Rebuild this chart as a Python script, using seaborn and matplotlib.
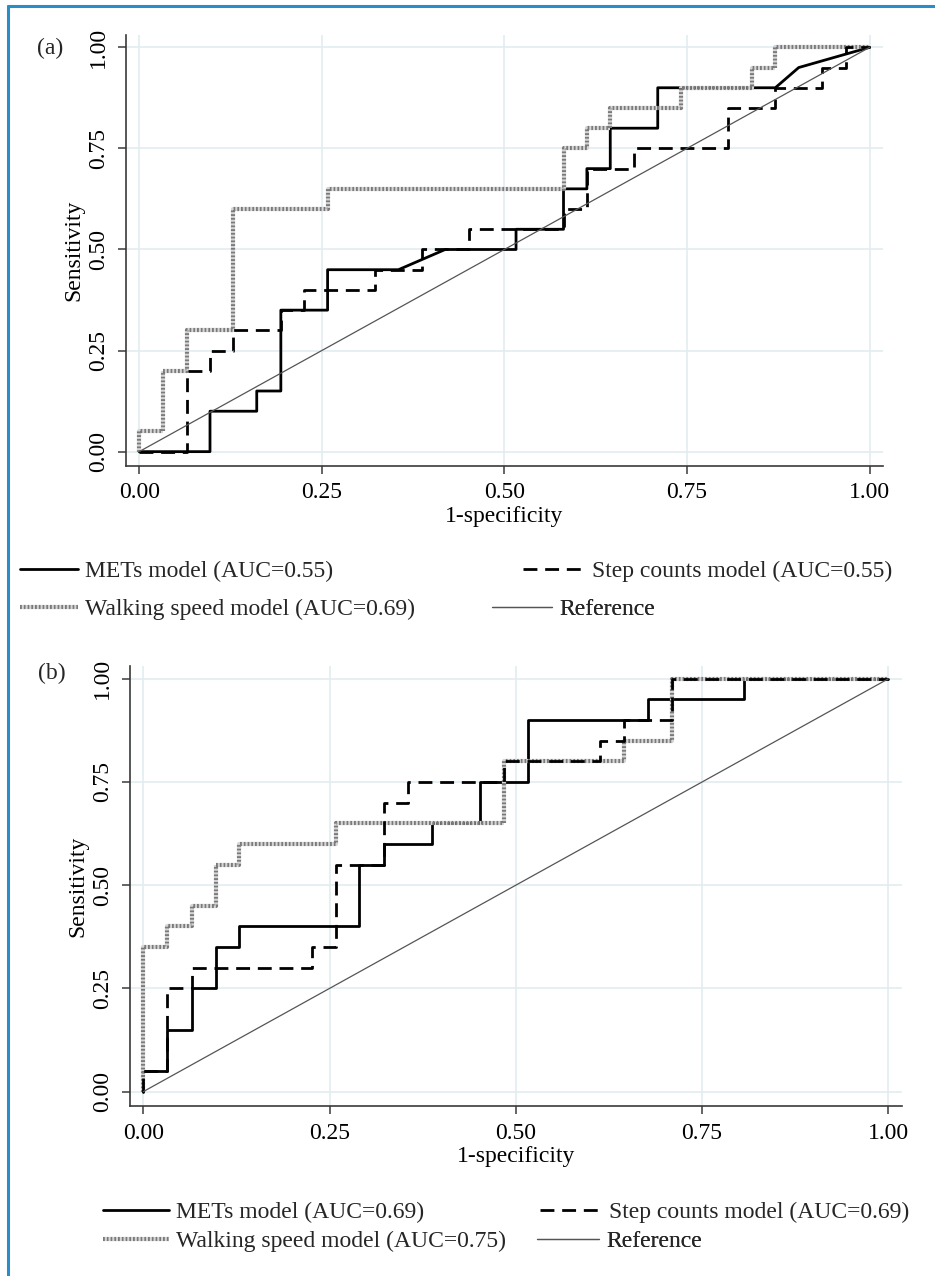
import matplotlib
matplotlib.use("Agg")
import matplotlib.pyplot as plt
from matplotlib.lines import Line2D
import seaborn as sns

# ---------------- data ----------------
# Panel (a)
a_mets_fpr = [0, 0.097, 0.097, 0.161, 0.161, 0.194, 0.194, 0.258, 0.258, 0.355, 0.419, 0.516,
              0.516, 0.581, 0.581, 0.613, 0.613, 0.645, 0.645, 0.710, 0.710, 0.871, 0.903, 1.0]
a_mets_tpr = [0, 0, 0.10, 0.10, 0.15, 0.15, 0.35, 0.35, 0.45, 0.45, 0.50, 0.50,
              0.55, 0.55, 0.65, 0.65, 0.70, 0.70, 0.80, 0.80, 0.90, 0.90, 0.95, 1.0]
a_step_fpr = [0, 0.065, 0.065, 0.097, 0.097, 0.129, 0.129, 0.194, 0.194, 0.226, 0.226, 0.323,
              0.323, 0.387, 0.387, 0.452, 0.452, 0.581, 0.581, 0.613, 0.613, 0.677, 0.677,
              0.806, 0.806, 0.871, 0.871, 0.935, 0.935, 0.968, 0.968, 1.0]
a_step_tpr = [0, 0, 0.20, 0.20, 0.25, 0.25, 0.30, 0.30, 0.35, 0.35, 0.40, 0.40,
              0.45, 0.45, 0.50, 0.50, 0.55, 0.55, 0.60, 0.60, 0.70, 0.70, 0.75,
              0.75, 0.85, 0.85, 0.90, 0.90, 0.95, 0.95, 1.0, 1.0]
a_walk_fpr = [0, 0, 0.032, 0.032, 0.065, 0.065, 0.129, 0.129, 0.258, 0.258, 0.581, 0.581,
              0.613, 0.613, 0.645, 0.645, 0.742, 0.742, 0.839, 0.839, 0.871, 0.871, 1.0]
a_walk_tpr = [0, 0.05, 0.05, 0.20, 0.20, 0.30, 0.30, 0.60, 0.60, 0.65, 0.65, 0.75,
              0.75, 0.80, 0.80, 0.85, 0.85, 0.90, 0.90, 0.95, 0.95, 1.0, 1.0]
a_labels = ["METs model (AUC=0.55)", "Step counts model (AUC=0.55)",
            "Walking speed model (AUC=0.69)", "Reference"]

# Panel (b)
b_mets_fpr = [0, 0, 0.032, 0.032, 0.065, 0.065, 0.097, 0.097, 0.129, 0.129, 0.290, 0.290,
              0.323, 0.323, 0.387, 0.387, 0.452, 0.452, 0.516, 0.516, 0.677, 0.677, 0.806,
              0.806, 1.0]
b_mets_tpr = [0, 0.05, 0.05, 0.15, 0.15, 0.25, 0.25, 0.35, 0.35, 0.40, 0.40, 0.55,
              0.55, 0.60, 0.60, 0.65, 0.65, 0.75, 0.75, 0.90, 0.90, 0.95, 0.95,
              1.0, 1.0]
b_step_fpr = [0, 0, 0.032, 0.032, 0.065, 0.065, 0.226, 0.226, 0.258, 0.258, 0.323, 0.323,
              0.355, 0.355, 0.484, 0.484, 0.613, 0.613, 0.645, 0.645, 0.710, 0.710, 1.0]
b_step_tpr = [0, 0.05, 0.05, 0.25, 0.25, 0.30, 0.30, 0.35, 0.35, 0.55, 0.55, 0.70,
              0.70, 0.75, 0.75, 0.80, 0.80, 0.85, 0.85, 0.90, 0.90, 1.0, 1.0]
b_walk_fpr = [0, 0, 0.032, 0.032, 0.065, 0.065, 0.097, 0.097, 0.129, 0.129, 0.258, 0.258,
              0.484, 0.484, 0.645, 0.645, 0.710, 0.710, 1.0]
b_walk_tpr = [0, 0.35, 0.35, 0.40, 0.40, 0.45, 0.45, 0.55, 0.55, 0.60, 0.60, 0.65,
              0.65, 0.80, 0.80, 0.85, 0.85, 1.0, 1.0]
b_labels = ["METs model (AUC=0.69)", "Step counts model (AUC=0.69)",
            "Walking speed model (AUC=0.75)", "Reference"]

ref_x = [0, 1]
ref_y = [0, 1]
ticks = [0, 0.25, 0.5, 0.75, 1.0]
tick_labels = ["0.00", "0.25", "0.50", "0.75", "1.00"]
panel_tags = ["(a)", "(b)"]

# ---------------- style ----------------
sns.set_theme(style="ticks")
plt.rcParams["font.family"] = ["Liberation Serif", "DejaVu Serif"]
FS = 17

W, H = 935, 1276
fig = plt.figure(figsize=(W / 100, H / 100), dpi=100)
fig.patch.set_facecolor("white")


def px_axes(l, t, r, b):
    return fig.add_axes([l / W, 1 - b / H, (r - l) / W, (b - t) / H])


ax_a = px_axes(126, 34.8, 882.7, 465.8)
ax_b = px_axes(130, 666, 901.7, 1106)

solid_kw = dict(color="black", lw=2.0, linestyle="-")
dash_kw = dict(color="black", lw=2.0, linestyle=(0, (5.0, 2.8)))
walk_kw = dict(color="#7a7a7a", lw=3.0, linestyle=(0, (0.45, 0.45)), gapcolor="#d6d6d6")
ref_kw = dict(color="#555555", lw=0.9, linestyle="-")


def draw_panel(ax, mets, step, walk):
    sns.lineplot(x=mets[0], y=mets[1], sort=False, estimator=None, ax=ax, **solid_kw)
    sns.lineplot(x=walk[0], y=walk[1], sort=False, estimator=None, ax=ax, **walk_kw)
    sns.lineplot(x=step[0], y=step[1], sort=False, estimator=None, ax=ax, **dash_kw)
    sns.lineplot(x=ref_x, y=ref_y, sort=False, estimator=None, ax=ax, **ref_kw)
    ax.set_xlim(-0.018, 1.018)
    ax.set_ylim(-0.035, 1.031)
    ax.set_xticks(ticks)
    ax.set_xticklabels(tick_labels)
    ax.set_yticks(ticks)
    ax.set_yticklabels(tick_labels, rotation=90, va="center")
    ax.grid(True, color="#e2edf1", lw=1.2)
    ax.set_axisbelow(True)
    for s in ["top", "right"]:
        ax.spines[s].set_visible(False)
    for s in ["left", "bottom"]:
        ax.spines[s].set_color("#3a3a3a")
        ax.spines[s].set_linewidth(1.2)
    ax.tick_params(axis="both", direction="out", length=6, width=1.1, color="#3a3a3a",
                   labelsize=FS, labelcolor="black")
    ax.tick_params(axis="x", pad=6)
    ax.tick_params(axis="y", pad=6)
    ax.set_xlabel("1-specificity", fontsize=FS, color="black", labelpad=2)
    ax.set_ylabel("Sensitivity", fontsize=FS, color="black", labelpad=3)
    ax.set_facecolor("white")


draw_panel(ax_a, (a_mets_fpr, a_mets_tpr), (a_step_fpr, a_step_tpr), (a_walk_fpr, a_walk_tpr))
draw_panel(ax_b, (b_mets_fpr, b_mets_tpr), (b_step_fpr, b_step_tpr), (b_walk_fpr, b_walk_tpr))


def add_entry(ax, handle_kw, label, x_px, y_px, hlen_px):
    h = Line2D([], [], **handle_kw)
    fs_px = FS * 100 / 72
    leg = ax.legend([h], [label], loc="center left",
                    bbox_to_anchor=(x_px / W, 1 - y_px / H), bbox_transform=fig.transFigure,
                    frameon=False, fontsize=FS, borderpad=0, borderaxespad=0,
                    handlelength=hlen_px / fs_px, handletextpad=0.3)
    ax.add_artist(leg)


styles = [solid_kw, dash_kw, walk_kw, ref_kw]
# panel (a) legend
add_entry(ax_a, styles[0], a_labels[0], 20, 571, 58)
add_entry(ax_a, styles[1], a_labels[1], 523, 571, 62)
add_entry(ax_a, styles[2], a_labels[2], 20, 609, 58)
add_entry(ax_a, styles[3], a_labels[3], 492, 609, 60)
# panel (b) legend
add_entry(ax_b, styles[0], b_labels[0], 103, 1212, 66)
add_entry(ax_b, styles[1], b_labels[1], 540, 1212, 62)
add_entry(ax_b, styles[2], b_labels[2], 103, 1241, 66)
add_entry(ax_b, styles[3], b_labels[3], 537, 1241, 62)

# panel tags
fig.text(50 / W, 1 - 48 / H, panel_tags[0], fontsize=FS, ha="center", va="center")
fig.text(52 / W, 1 - 673 / H, panel_tags[1], fontsize=FS, ha="center", va="center")

# blue frame (top and left edges)
blue = "#2a8cc8"
fig.add_artist(Line2D([8 / W, 1], [1 - 6 / H, 1 - 6 / H], transform=fig.transFigure,
                      color=blue, lw=2.2))
fig.add_artist(Line2D([8 / W, 8 / W], [0, 1 - 6 / H], transform=fig.transFigure,
                      color=blue, lw=2.2))

fig.savefig("out.png", dpi=100, facecolor="white")
